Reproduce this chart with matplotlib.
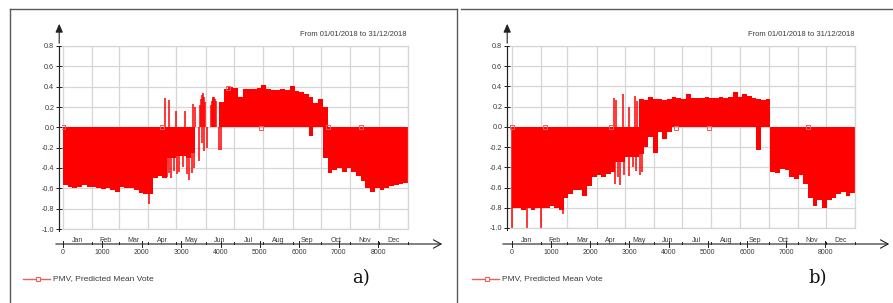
import numpy as np
import matplotlib
matplotlib.use("Agg")
import matplotlib.pyplot as plt
from matplotlib.lines import Line2D
from matplotlib import transforms

W, H = 893, 303

# PMV envelope, one value per 120-hour block (73 blocks = 8760 h)
block_hours = 120

a_upper = [0] * 33 + [
    0.25, 0.38, 0.40, 0.39, 0.30, 0.38, 0.38, 0.38, 0.39, 0.42,
    0.38, 0.37, 0.37, 0.38, 0.37, 0.41, 0.36, 0.35, 0.33, 0.30,
    0.24, 0.28, 0.20] + [0] * 17
a_lower = [
    -0.57, -0.59, -0.60, -0.59, -0.57, -0.59, -0.59, -0.60, -0.61, -0.60,
    -0.62, -0.64, -0.59, -0.60, -0.60, -0.62, -0.65, -0.66, -0.66, -0.50,
    -0.48, -0.50, -0.30, -0.30, -0.28, -0.28, -0.30, -0.25] + [0] * 24 + [
    -0.09, 0, 0, -0.30,
    -0.45, -0.42, -0.40, -0.44, -0.40, -0.44, -0.48, -0.53, -0.60, -0.64,
    -0.60, -0.62, -0.60, -0.58, -0.57, -0.56, -0.55]

# single spikes (spring transition etc.)
a_spike_h = [2180, 2590, 2640, 2680, 2700, 2740, 2810, 2880, 2900, 2940,
             3040, 3110, 3160, 3210, 3270, 3300, 3320, 3340, 3450, 3480,
             3500, 3520, 3540, 3560, 3580, 3590, 3600, 3660, 3760, 3780,
             3800, 3820, 3840, 3860, 3880, 3950, 4020]
a_spike_v = [-0.75, 0.29, -0.49, -0.45, 0.27, -0.50, -0.43, 0.16, -0.46, -0.44,
             -0.39, 0.16, -0.46, -0.52, -0.45, 0.23, -0.40, 0.20, -0.33, 0.22,
             0.28, 0.32, -0.15, 0.34, 0.30, -0.23, 0.25, -0.20, 0.22, 0.26,
             0.29, 0.30, 0.30, 0.28, 0.26, -0.22, -0.22]
a_marker_h = [0, 2520, 4200, 5040, 6720, 7560]
a_marker_v = [0.0, 0.0, 0.39, -0.01, 0.0, 0.0]

b_upper = [0] * 27 + [
    0.28, 0.27, 0.30, 0.28, 0.28, 0.27, 0.28, 0.30, 0.29, 0.28,
    0.33, 0.29, 0.29, 0.29, 0.30, 0.29, 0.29, 0.30, 0.29, 0.30,
    0.35, 0.30, 0.33, 0.31, 0.29, 0.28, 0.27, 0.28] + [0] * 18
b_lower = [
    -0.80, -0.80, -0.82, -0.80, -0.82, -0.80, -0.80, -0.80, -0.78, -0.80, -0.82,
    -0.70, -0.66, -0.62, -0.62, -0.68, -0.58, -0.50, -0.48, -0.50, -0.47,
    -0.45, -0.35, -0.35, -0.30, -0.30, -0.30, -0.27, -0.20, -0.10, -0.26, -0.05, -0.12, -0.05
] + [0] * 18 + [
    -0.23, 0, 0,
    -0.45, -0.46, -0.42, -0.43, -0.50, -0.52, -0.48, -0.56, -0.70, -0.78,
    -0.72, -0.80, -0.72, -0.70, -0.66, -0.64, -0.68, -0.65]

b_spike_h = [10, 380, 740, 1310, 2600, 2640, 2660, 2700, 2760, 2830,
             2870, 2990, 3000, 3080, 3130, 3170, 3200, 3280, 3330]
b_spike_v = [-1.04, -1.03, -1.04, -0.86, 0.29, -0.56, 0.27, -0.50, -0.57, 0.33,
             -0.48, -0.49, 0.20, -0.40, 0.31, -0.44, 0.26, -0.48, -0.45]
b_marker_h = [0, 840, 2520, 4200, 5040, 7560]
b_marker_v = [0.0, 0.0, 0.0, -0.01, -0.01, 0.0]

months = ['Jan', 'Feb', 'Mar', 'Apr', 'May', 'Jun',
          'Jul', 'Aug', 'Sep', 'Oct', 'Nov', 'Dec']
month_start = [0, 744, 1416, 2160, 2880, 3624, 4344,
               5088, 5832, 6552, 7296, 8016, 8760]
x_ticks = [0, 1000, 2000, 3000, 4000, 5000, 6000, 7000, 8000]
y_ticks = [-1.0, -0.8, -0.6, -0.4, -0.2, 0.0, 0.2, 0.4, 0.6, 0.8]

title = 'From 01/01/2018 to 31/12/2018'
legend_label = 'PMV, Predicted Mean Vote'

plt.rcParams['font.family'] = ['Liberation Sans', 'DejaVu Sans']
TXT = '#3a3a3a'
RED = '#ff0000'
MK = '#e86060'

fig = plt.figure(figsize=(W / 100, H / 100), dpi=100)


def fx(px):
    return px / W


def fy(py):
    return 1 - py / H


def panel(box_l, box_r, zero_px, top, bot, upper, lower, sp_h, sp_v, mk_h, mk_v,
          axis_l, axis_r, leg_x, tag, tag_x):
    ax = fig.add_axes([fx(box_l), fy(bot), (box_r - box_l) / W, (bot - top) / H])
    px_per_h = (box_r - zero_px) / 8760
    ax.set_xlim(-(zero_px - box_l) / px_per_h, 8760)
    ax.set_ylim(-1.0, 0.8)

    # each block drawn from its lowest to its highest hourly value
    starts = np.arange(len(upper)) * block_hours
    up = np.array(upper)
    lo = np.array(lower)
    ax.bar(starts, up - lo, bottom=lo, width=block_hours, align='edge',
           color=RED, linewidth=0, zorder=2)
    ax.vlines(sp_h, 0, sp_v, color=RED, lw=1.1, zorder=2)
    ax.plot(mk_h, mk_v, 's', ms=3.2, mfc='none', mec=MK, mew=0.7, zorder=3)

    ax.set_xticks(month_start)
    ax.set_xticklabels([])
    ax.set_yticks(y_ticks)
    ax.set_yticklabels(['%.1f' % v for v in y_ticks])
    ax.tick_params(axis='x', length=0)
    ax.tick_params(axis='y', direction='inout', length=5, width=0.7,
                   color='#222222', labelsize=5.2, labelcolor=TXT, pad=1)
    ax.grid(color='#d6d6d6', lw=0.9)
    ax.set_axisbelow(True)
    for s in ['top', 'right', 'bottom']:
        ax.spines[s].set_color('#d6d6d6')
        ax.spines[s].set_linewidth(0.9)
    ax.spines['left'].set_position(('outward', 2))
    ax.spines['left'].set_color('#222222')
    ax.spines['left'].set_linewidth(0.8)

    # y axis arrow above the plot box
    ax_x = box_l - 2.8
    fig.add_artist(Line2D([fx(ax_x), fx(ax_x)], [fy(bot + 2), fy(top)],
                          color='#222222', lw=0.8, transform=fig.transFigure))
    ax.annotate('', xy=(fx(ax_x), fy(21)), xytext=(fx(ax_x), fy(top)),
                xycoords='figure fraction', textcoords='figure fraction',
                arrowprops=dict(arrowstyle='-|>,head_length=0.5,head_width=0.22',
                                color='#222222', lw=0.8, mutation_scale=10))

    # x axis below, with months and hours
    ay = 244
    ax.annotate('', xy=(fx(axis_r), fy(ay)), xytext=(fx(axis_l), fy(ay)),
                xycoords='figure fraction', textcoords='figure fraction',
                arrowprops=dict(arrowstyle='->,head_length=0.55,head_width=0.3',
                                color='#222222', lw=0.8, mutation_scale=10))
    tr = transforms.blended_transform_factory(ax.transData, fig.transFigure)
    for h in x_ticks:
        fig.add_artist(Line2D([h, h], [fy(241), fy(247)], color='#222222',
                              lw=0.7, transform=tr))
        fig.text(h, fy(253), str(h), transform=tr, ha='center', va='center',
                 fontsize=5, color=TXT)
    for h in month_start:
        fig.add_artist(Line2D([h, h], [fy(ay), fy(242)], color='#222222',
                              lw=0.7, transform=tr))
    for i, m in enumerate(months):
        mid = (month_start[i] + month_start[i + 1]) / 2
        fig.text(mid, fy(ay + 0.5), m, transform=tr, ha='center', va='bottom',
                 fontsize=5, color=TXT)

    fig.text(fx(box_r - 1), fy(34), title, ha='right', va='center',
             fontsize=5.5, color=TXT)

    # legend
    fig.add_artist(Line2D([fx(leg_x), fx(leg_x + 27)], [fy(279), fy(279)],
                          color=MK, lw=1.0, transform=fig.transFigure))
    fig.add_artist(Line2D([fx(leg_x + 15)], [fy(279)], marker='s', ms=3.2,
                          mfc='white', mec=MK, mew=0.8, transform=fig.transFigure))
    fig.text(fx(leg_x + 30), fy(279), legend_label, ha='left', va='center',
             fontsize=6, color=TXT)
    fig.text(fx(tag_x), fy(278), tag, ha='left', va='center', fontsize=13,
             family='DejaVu Serif', color='#111111')
    return ax


panel(62, 408, 63, 46, 229, a_upper, a_lower, a_spike_h, a_spike_v,
      a_marker_h, a_marker_v, 53, 445, 23, 'a)', 352)
panel(510, 855, 512, 46, 228, b_upper, b_lower, b_spike_h, b_spike_v,
      b_marker_h, b_marker_v, 500, 892, 472, 'b)', 808)

# outer frames
fc = '#5a5a5a'
for xs, ys in [([10, 10], [305, 9]), ([10, 457], [9, 9]), ([457, 457], [9, 305]),
               ([461, 895], [9, 9])]:
    fig.add_artist(Line2D([fx(x) for x in xs], [fy(y) for y in ys],
                          color=fc, lw=1.0, transform=fig.transFigure))

fig.savefig('out.png', dpi=100)
